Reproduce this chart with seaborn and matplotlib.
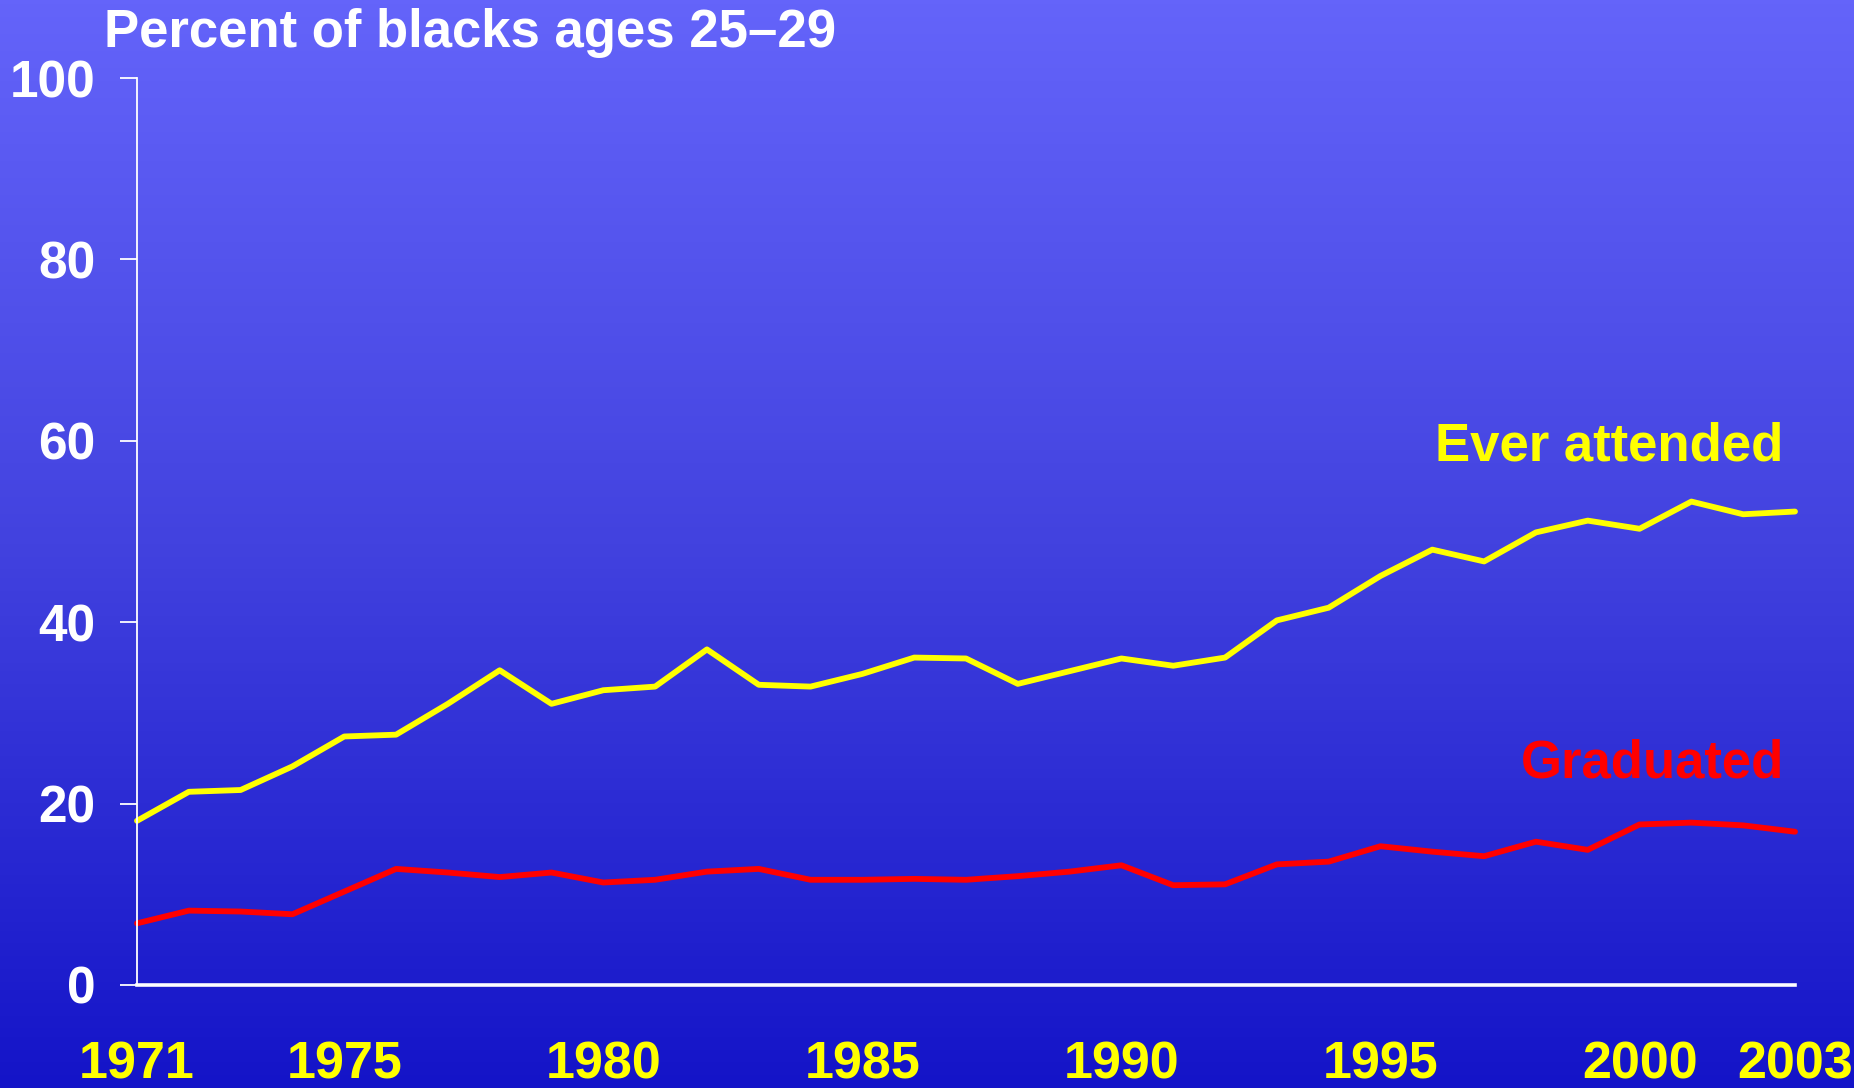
import numpy as np
import pandas as pd
import matplotlib
matplotlib.use("Agg")
import matplotlib.pyplot as plt
from matplotlib.colors import LinearSegmentedColormap
import seaborn as sns

# ---- data ----
years = list(range(1971, 2004))
ever_attended = [18.1, 21.3, 21.5, 24.1, 27.4, 27.6, 31.0, 34.7, 31.0, 32.5,
                 32.9, 37.0, 33.1, 32.9, 34.3, 36.1, 36.0, 33.2, 34.6, 36.0,
                 35.2, 36.1, 40.2, 41.6, 45.1, 48.0, 46.7, 49.9, 51.2, 50.3,
                 53.3, 51.9, 52.2]
graduated = [6.8, 8.2, 8.1, 7.8, 10.3, 12.8, 12.4, 11.9, 12.4, 11.3,
             11.6, 12.5, 12.8, 11.6, 11.6, 11.7, 11.6, 12.0, 12.5, 13.2,
             11.0, 11.1, 13.3, 13.6, 15.3, 14.7, 14.2, 15.8, 14.9, 17.7,
             17.9, 17.6, 16.9]
series_names = ["Ever attended", "Graduated"]
xtick_years = [1971, 1975, 1980, 1985, 1990, 1995, 2000, 2003]
ytick_values = [0, 20, 40, 60, 80, 100]
title = "Percent of blacks ages 25\u201329"

df = pd.DataFrame({
    "year": years * 2,
    "value": ever_attended + graduated,
    "series": [series_names[0]] * len(years) + [series_names[1]] * len(years),
})

sns.set_theme(style="white")
plt.rcParams["font.family"] = ["Liberation Sans", "DejaVu Sans"]
plt.rcParams["font.weight"] = "bold"

W, H = 1854, 1088
fig = plt.figure(figsize=(W / 100, H / 100), dpi=100)

# gradient background
bg = fig.add_axes([0, 0, 1, 1], zorder=-10)
cmap = LinearSegmentedColormap.from_list("bg", ["#6464FA", "#4242DF", "#1414C8"])
grad = np.linspace(0, 1, 256).reshape(-1, 1)
bg.imshow(grad, aspect="auto", cmap=cmap, extent=[0, 1, 0, 1], origin="upper")
bg.set_axis_off()

ax = fig.add_axes([137 / W, 1 - 985 / H, (1795 - 137) / W, (985 - 78) / H])
ax.set_facecolor("none")

sns.lineplot(data=df, x="year", y="value", hue="series",
             palette={"Ever attended": "#FFFF00", "Graduated": "#FF0000"},
             linewidth=4.2, legend=False, ax=ax, clip_on=False)

ax.set_xlim(1971, 2003)
ax.set_ylim(0, 100)
ax.set_xlabel("")
ax.set_ylabel("")
ax.set_xticks(xtick_years)
ax.set_xticklabels([str(y) for y in xtick_years])
ax.set_yticks(ytick_values)

for s in ["top", "right"]:
    ax.spines[s].set_visible(False)
ax.spines["left"].set_color("white")
ax.spines["left"].set_linewidth(1.3)
ax.spines["bottom"].set_color("white")
ax.spines["bottom"].set_linewidth(2.6)

ax.tick_params(axis="x", length=0, pad=40, labelsize=37.5, labelcolor="#FFFF00")
ax.tick_params(axis="y", length=12, width=1.3, color="white", direction="out",
               pad=18, labelsize=37, labelcolor="white", left=True)
for lab in ax.get_xticklabels() + ax.get_yticklabels():
    lab.set_fontweight("bold")

ax.text(2002.77, 57.8, "Ever attended", color="#FFFF00", fontsize=38,
        fontweight="bold", ha="right", va="baseline")
ax.text(2002.8, 22.9, "Graduated", color="#FF0000", fontsize=38,
        fontweight="bold", ha="right", va="baseline")

fig.text(104 / W, 1 - 47 / H, title, color="white", fontsize=38,
         fontweight="bold", ha="left", va="baseline")

fig.savefig("out.png", dpi=100)
